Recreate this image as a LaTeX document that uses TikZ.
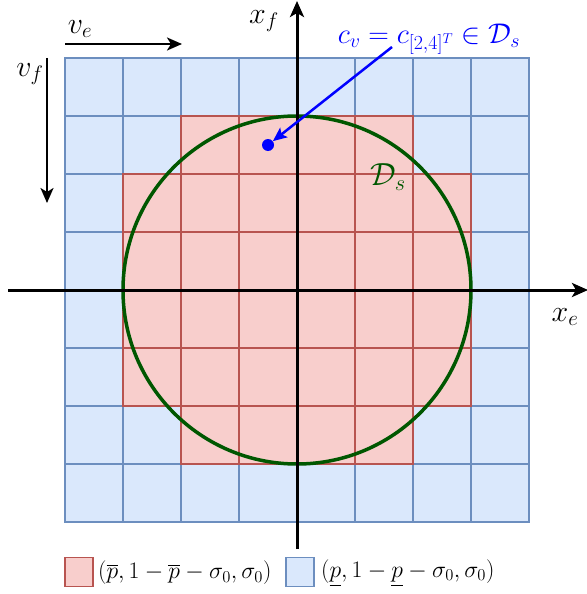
\RequirePackage{fix-cm}
\documentclass[tikz,border=0pt]{standalone}
\usepackage{amsmath}
\usetikzlibrary{arrows.meta}
\definecolor{redfill}{HTML}{F8CECC}
\definecolor{redline}{HTML}{B85450}
\definecolor{bluefill}{HTML}{DAE8FC}
\definecolor{blueline}{HTML}{6C8EBF}
\definecolor{dgreen}{HTML}{005700}
\begin{document}
\begin{tikzpicture}[x=1pt,y=-1pt,
  bcell/.style={fill=bluefill,draw=blueline,line width=1.2pt},
  rcell/.style={fill=redfill,draw=redline,line width=1.2pt},
  axis/.style={line width=3pt,-{Stealth[length=16pt,width=14pt,inset=4pt]}},
  varrow/.style={line width=2.5pt,-{Stealth[length=15pt,width=13pt,inset=4pt]}},
  lab/.style={inner sep=0pt,font=\fontsize{30}{34}\selectfont},
  leg/.style={inner sep=0pt,font=\fontsize{23.7}{28}\selectfont}]
\useasboundingbox (0,0) rectangle (586,594);
% grid
\foreach \i in {0,...,7}{
  \foreach \j in {0,...,7}{
    \pgfmathtruncatemacro{\isred}{ ((\j>=2 && \j<=5) && \i>=1 && \i<=6) || ((\j==1 || \j==6) && \i>=2 && \i<=5) ? 1 : 0}
    \ifnum\isred=1
      \path[rcell] (65+58*\i,58+58*\j) rectangle ++(58,58);
    \else
      \path[bcell] (65+58*\i,58+58*\j) rectangle ++(58,58);
    \fi
  }
}
% red borders on top
\foreach \i in {0,...,7}{
  \foreach \j in {0,...,7}{
    \pgfmathtruncatemacro{\isred}{ ((\j>=2 && \j<=5) && \i>=1 && \i<=6) || ((\j==1 || \j==6) && \i>=2 && \i<=5) ? 1 : 0}
    \ifnum\isred=1
      \draw[redline,line width=1.2pt] (65+58*\i,58+58*\j) rectangle ++(58,58);
    \fi
  }
}
% circle
\coordinate (O) at (297,290);
\draw[dgreen,line width=3.5pt] (O) circle[radius=174];
% axes
\coordinate (xl) at (8,290);
\coordinate (xr) at (588,290);
\coordinate (yb) at (297,549);
\coordinate (yt) at (297,1);
\draw[axis] (xl) -- (xr);
\draw[axis] (yb) -- (yt);
\node[lab] (xf) at (264,21) {$x_f$};
\node[lab] (xe) at (565,317) {$x_e$};
% v arrows
\coordinate (ve1) at (65,44);
\coordinate (ve2) at (182,44);
\draw[varrow] (ve1) -- (ve2);
\node[lab] (ve) at (80,29) {$v_e$};
\coordinate (vf1) at (47,58);
\coordinate (vf2) at (47,203);
\draw[varrow] (vf1) -- (vf2);
\node[lab] (vf) at (30,74) {$v_f$};
% point
\node[circle,fill=blue,inner sep=0pt,minimum size=12pt] (cv) at (268,145) {};
\node[inner sep=0pt,font=\fontsize{28.5}{32}\selectfont,blue] (cvl) at (429,39) {$c_v = c_{[2,4]^T} \in \mathcal{D}_s$};
\coordinate (ca) at (392,47);
\draw[blue,line width=2.5pt,-{Stealth[length=14pt,width=12pt,inset=3pt]}] (ca) -- (cv);
\node[inner sep=0pt,font=\fontsize{32}{36}\selectfont,dgreen] (ds) at (388,177) {$\mathcal{D}_s$};
% legend
\node[rcell,minimum width=28pt,minimum height=29pt,inner sep=0pt] (lr) at (79,572) {};
\node[leg,anchor=west] (lrt) at (98,573) {$(\overline{p}, 1-\overline{p}-\sigma_0, \sigma_0)$};
\node[bcell,minimum width=28pt,minimum height=29pt,inner sep=0pt] (lb) at (300,572) {};
\node[leg,anchor=west] (lbt) at (321,573) {$(\underline{p}, 1-\underline{p}-\sigma_0, \sigma_0)$};
\end{tikzpicture}
\end{document}
